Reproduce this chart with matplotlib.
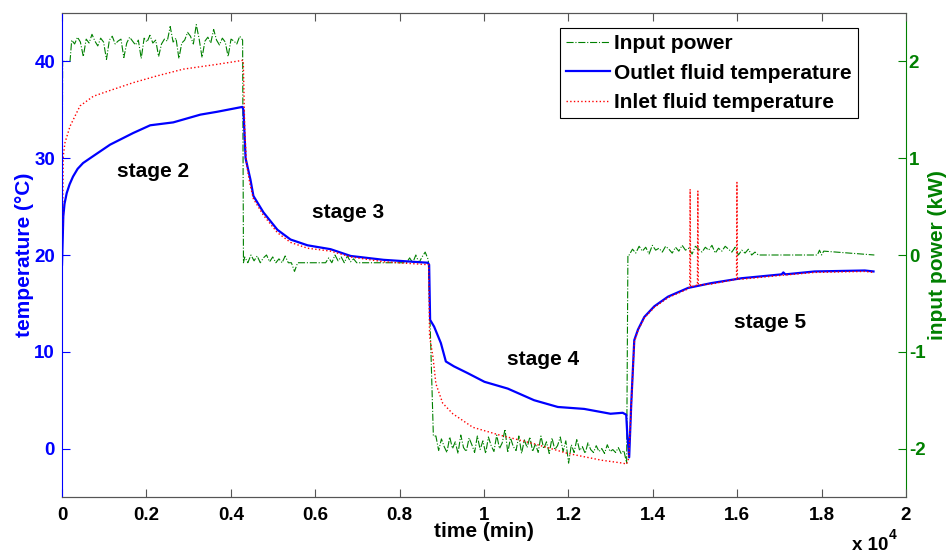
import numpy as np
import matplotlib.pyplot as plt

plt.rcParams['font.family'] = ['Liberation Sans', 'DejaVu Sans']
plt.rcParams['font.weight'] = 'bold'
plt.rcParams['axes.labelweight'] = 'bold'
plt.rcParams['axes.unicode_minus'] = False

BLUE = '#0000ff'
GREEN = '#008000'
RED = '#ff0000'

# outlet fluid temperature (degC) against time (min)
t_outlet = [0, 31, 60, 112, 180, 261, 370, 499, 700, 903, 1140, 1686, 2090, 2636, 3278, 3681, 4275,
            4300, 4350, 4465, 4536, 4774, 5106, 5415, 5819, 6365, 6840, 7624, 8669,
            8700, 8723, 8818, 8978, 9096, 9286, 9611, 10011, 10562, 11186, 11749,
            12374, 12998, 13286, 13370, 13395, 13440, 13490, 13561, 13649, 13799,
            14036, 14362, 14837, 15390, 16103, 17053, 17093, 17140, 17836, 19024, 19230]
T_outlet = [19.0, 24.0, 25.3, 26.4, 27.3, 28.1, 28.9, 29.5, 30.1, 30.7, 31.4, 32.6, 33.4, 33.7, 34.5, 34.8, 35.3,
            35.0, 30.0, 27.8, 26.1, 24.4, 22.6, 21.6, 21.0, 20.6, 19.9, 19.5, 19.2,
            19.0, 13.3, 12.6, 10.9, 9.0, 8.5, 7.8, 6.9, 6.2, 5.0, 4.3,
            4.1, 3.6, 3.7, 3.5, 1.5, -0.9, 4.7, 11.2, 12.3, 13.6,
            14.7, 15.7, 16.6, 17.1, 17.6, 18.0, 18.2, 18.0, 18.3, 18.4, 18.3]

# inlet fluid temperature (degC), with the three sensor spikes in stage 5
t_inlet = [0, 15, 30, 70, 190, 427, 743, 1140, 1686, 2249, 2874, 3681, 4268,
           4295, 4330, 4370, 4450, 4536, 4774, 5106, 5415, 5819, 6365, 6840, 7624, 8669,
           8690, 8710, 8790, 8860, 9020, 9260, 9735, 10368, 11186, 11986, 12786, 13286,
           13380, 13430, 13490, 13561, 13649, 13799, 14036, 14362, 14837,
           14875, 14885, 14895, 15058, 15068, 15078, 15390, 15984, 15994, 16004,
           16103, 17053, 17836, 19024, 19230]
T_inlet = [19.0, 24.0, 30.2, 31.6, 33.3, 35.4, 36.4, 37.0, 37.8, 38.5, 39.2, 39.7, 40.1,
           40.1, 33.0, 29.5, 27.4, 25.8, 24.1, 22.3, 21.3, 20.7, 20.4, 19.8, 19.3, 19.0,
           19.0, 11.6, 9.5, 6.7, 4.7, 3.6, 2.2, 1.4, 0.5, -0.5, -1.2, -1.5,
           -1.6, -1.0, 4.5, 11.0, 12.2, 13.5, 14.6, 15.6, 16.5,
           16.7, 26.8, 16.7, 16.9, 26.6, 16.9, 17.0, 17.5, 27.5, 17.5,
           17.5, 17.9, 18.2, 18.3, 18.2]

# input power (kW), logged samples for each heating / cooling stage
power_stage2 = [2.22, 2.18, 2.25, 2.20, 2.05, 2.23, 2.19, 2.28, 2.21, 2.16, 2.24, 2.20,
                2.02, 2.22, 2.26, 2.18, 2.21, 2.23, 2.04, 2.19, 2.25, 2.21, 2.17, 2.22,
                2.03, 2.24, 2.20, 2.27, 2.19, 2.22, 2.05, 2.18, 2.23, 2.21, 2.36, 2.20,
                2.24, 2.03, 2.19, 2.22, 2.30, 2.26, 2.18, 2.38, 2.23, 2.04, 2.21, 2.25,
                2.19, 2.33, 2.22, 2.17, 2.24, 2.20, 2.05, 2.23, 2.21, 2.18, 2.26, 2.22]
power_stage3 = [-0.02, -0.08, 0.00, -0.06, -0.01, -0.08, -0.03, 0.00, -0.07, -0.02,
                -0.08, -0.04, -0.08, -0.01, -0.08,
                -0.08, -0.17, -0.08, -0.08, -0.08, -0.08, -0.08, -0.08, -0.08, -0.08,
                -0.08, -0.08,
                -0.03, -0.08, 0.00, -0.06, -0.02, -0.08, -0.01, -0.07, -0.04, -0.08,
                -0.08, -0.08, -0.08, -0.08, -0.08, -0.08, -0.08, -0.08, -0.08, -0.08,
                -0.08, -0.08, -0.08, -0.08, -0.08, -0.08,
                -0.03, -0.08, 0.00, -0.08, -0.02, 0.03, -0.05]
power_stage4 = [-1.87, -2.02, -1.90, -1.98, -2.04, -1.88, -2.00, -1.93, -2.05, -1.86,
                -1.99, -2.03, -1.89, -1.96, -2.04, -1.87, -2.01, -1.92, -2.05, -1.88,
                -1.97, -2.03, -1.86, -2.00, -1.94, -1.80, -2.04, -1.89, -1.98, -2.02,
                -1.87, -2.05, -1.91, -1.99, -1.88, -2.03, -1.95, -2.04, -1.87, -2.00,
                -1.93, -2.05, -1.89, -2.01, -1.97, -1.88, -2.03, -1.92, -2.15, -1.96,
                -2.04, -1.90, -2.02, -1.98, -2.05, -1.94, -2.01, -2.04, -1.97, -2.03,
                -2.00, -2.05, -1.96, -2.03, -2.01, -2.04, -1.99, -2.05, -2.02, -2.15]
power_stage5 = [0.00, 0.06, 0.02, 0.09, 0.04, 0.08, 0.01, 0.10, 0.05, 0.07,
                0.03, 0.09, 0.06, 0.02, 0.08, 0.04, 0.10, 0.05, 0.07, 0.01,
                0.09, 0.06, 0.03, 0.08, 0.05, 0.10, 0.02, 0.07, 0.04, 0.09,
                0.06, 0.03, 0.08, 0.00, 0.05, 0.02, 0.06, 0.00, 0.03, 0.00]
t_power_tail = [16550, 17900, 17950, 18000, 18050, 19250]
power_tail = [0.0, 0.0, 0.05, 0.0, 0.04, 0.0]

t_power = np.concatenate([
    [0, 15, 190], np.linspace(230, 4280, len(power_stage2)),
    [4300], np.linspace(4330, 8680, len(power_stage3)),
    [8800], np.linspace(8860, 13380, len(power_stage4)),
    [13410], np.linspace(13440, 16500, len(power_stage5)),
    t_power_tail])
power = np.concatenate([
    [0.0, 2.0, 2.0], power_stage2,
    [-0.08], power_stage3,
    [-1.87], power_stage4,
    [0.0], power_stage5,
    power_tail])

xtick_labels = ['0', '0.2', '0.4', '0.6', '0.8', '1', '1.2', '1.4', '1.6', '1.8', '2']

fig = plt.figure(figsize=(9.48, 5.54), dpi=100)
ax = fig.add_axes([62 / 948, 57 / 554, 844 / 948, 484 / 554])
ax2 = ax.twinx()
ax.set_zorder(ax2.get_zorder() + 1)
ax.patch.set_visible(False)

lp, = ax2.plot(t_power, power, '-.', color=GREEN, lw=0.8, label='Input power')
lo, = ax.plot(t_outlet, T_outlet, '-', color=BLUE, lw=1.6, label='Outlet fluid temperature')
li, = ax.plot(t_inlet, T_inlet, ':', color=RED, lw=1.0, label='Inlet fluid temperature')

ax.set_xlim(0, 20000)
ax.set_ylim(-5, 45)
ax2.set_ylim(-2.5, 2.5)

ax.set_xticks(np.arange(0, 20001, 2000))
ax.set_xticklabels(xtick_labels)
ax.set_yticks([0, 10, 20, 30, 40])
ax2.set_yticks([-2, -1, 0, 1, 2])

ax.tick_params(axis='x', direction='in', length=6, width=0.8, color='#555555',
               labelsize=13.5, pad=7, top=True)
ax.tick_params(axis='y', direction='in', length=6, width=0.8, colors=BLUE,
               labelsize=13.5, pad=5)
ax2.tick_params(axis='y', direction='in', length=6, width=0.8, colors=GREEN,
                labelsize=13.5, pad=2)

for a in (ax, ax2):
    a.spines['top'].set_color('#555555')
    a.spines['bottom'].set_color('#555555')
ax.spines['left'].set_color(BLUE)
ax.spines['right'].set_visible(False)
ax2.spines['left'].set_visible(False)
ax2.spines['right'].set_color(GREEN)

ax.set_xlabel('time (min)', fontsize=15, labelpad=-1)
ax.set_ylabel('temperature (°C)', fontsize=15, color=BLUE, labelpad=0)
ax2.set_ylabel('input power (kW)', fontsize=15, color=GREEN, labelpad=2)

fig.text(888 / 948, 1 - 550 / 554, 'x 10', fontsize=13.5, ha='right', va='baseline')
fig.text(889 / 948, 1 - 539 / 554, '4', fontsize=10, ha='left', va='baseline')

for label, x, y in [('stage 2', 2161, 28.6), ('stage 3', 6770, 24.4),
                    ('stage 4', 11392, 9.2), ('stage 5', 16770, 13.0)]:
    ax.text(x, y, label, fontsize=15, ha='center', va='center')

leg = ax.legend(handles=[lp, lo, li], loc='upper right',
                bbox_to_anchor=(0.9431, 0.969), borderaxespad=0, fontsize=15,
                fancybox=False, framealpha=1, edgecolor='black',
                handlelength=2.1, handletextpad=0.2, labelspacing=0.5,
                borderpad=0.3)
leg.get_frame().set_linewidth(0.8)

fig.savefig('out.png', dpi=100)
